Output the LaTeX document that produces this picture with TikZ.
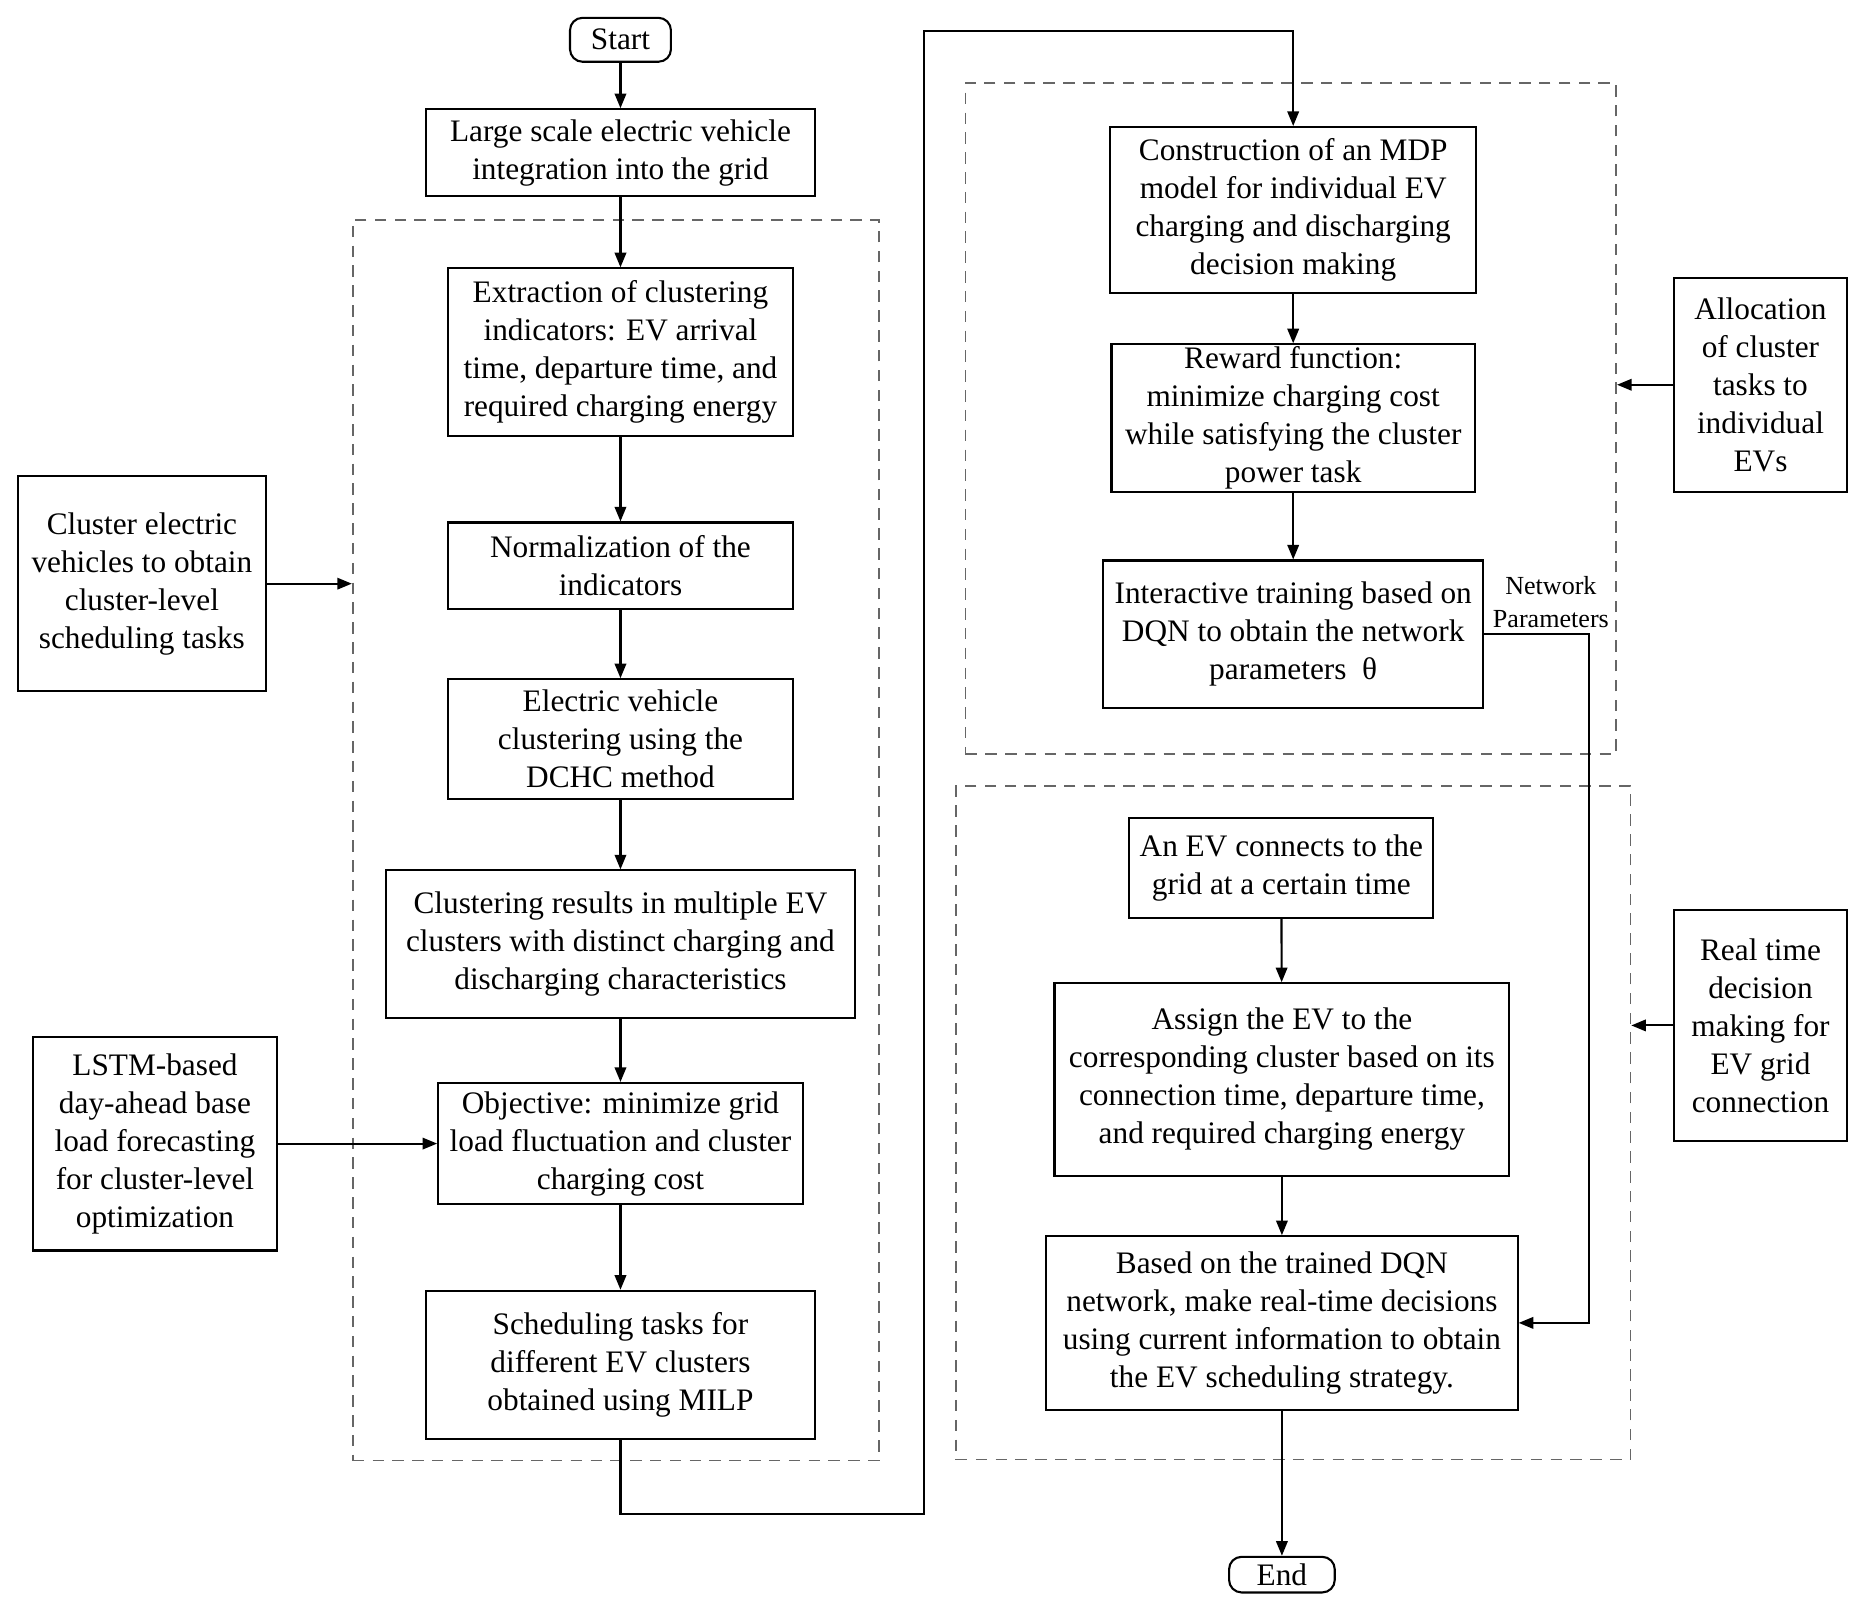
\documentclass[tikz,border=0pt]{standalone}
\usepackage{fontspec}
\setmainfont{Liberation Serif}
\usetikzlibrary{arrows.meta}
\tikzset{
  sz/.style 2 args={minimum width=#1*0.02cm, minimum height=#2*0.02cm},
  box/.style={draw, line width=1pt, align=center, inner sep=0pt, font=\fontsize{15}{18.2}\selectfont},
  term/.style={box, rounded corners=6pt},
  dbox/.style={draw=black!60, line width=0.8pt, dash pattern=on 5.5pt off 4pt, inner sep=0pt},
  arr/.style={line width=1pt, -{Triangle[length=7pt,width=5.5pt]}},
  ln/.style={line width=1pt},
  lbl/.style={font=\fontsize{12.5}{15.4}\selectfont, align=center, inner sep=0pt}
}
\begin{document}
\begin{tikzpicture}[x=0.02cm,y=-0.02cm]
\useasboundingbox (0,0) rectangle (1568,1356);
% dashed frames
\node[dbox, sz={443}{1045}] (dL) at (518.5,707.5) {};
\node[dbox, sz={548}{565}] (dRT) at (1087,352.5) {};
\node[dbox, sz={568}{567}] (dRB) at (1089,945.5) {};
% left column
\node[term, sz={85}{37}] (start) at (522.5,33.5) {Start};
\node[box, sz={327}{73}] (large) at (522.5,128.5) {Large scale electric vehicle\\integration into the grid};
\node[box, sz={291}{141}] (ext) at (522.5,296.5) {Extraction of clustering\\indicators: EV arrival\\time, departure time, and\\required charging energy};
\node[box, sz={291}{73}] (norm) at (522.5,476.5) {Normalization of the\\indicators};
\node[box, sz={291}{101}] (evc) at (522.5,622.5) {Electric vehicle\\clustering using the\\DCHC method};
\node[box, sz={395}{124}] (cres) at (522.5,795) {Clustering results in multiple EV\\clusters with distinct charging and\\discharging characteristics};
\node[box, sz={307}{102}] (obj) at (522.5,963) {Objective: minimize grid\\load fluctuation and cluster\\charging cost};
\node[box, sz={327}{125}] (sched) at (522.5,1149.5) {Scheduling tasks for\\different EV clusters\\obtained using MILP};
\node[box, sz={209}{181}] (clus) at (119.5,491.5) {Cluster electric\\vehicles to obtain\\cluster-level\\scheduling tasks};
\node[box, sz={205}{180}] (lstm) at (130.5,963) {LSTM-based\\day-ahead base\\load forecasting\\for cluster-level\\optimization};
% right column
\node[box, sz={308}{140}] (mdp) at (1089,177) {Construction of an MDP\\model for individual EV\\charging and discharging\\decision making};
\node[box, sz={306}{124}] (rew) at (1089,352) {Reward function:\\minimize charging cost\\while satisfying the cluster\\power task};
\node[box, sz={320}{124}] (inter) at (1089,534) {Interactive training based on\\DQN to obtain the network\\parameters\ \ θ};
\node[box, sz={145}{180}] (alloc) at (1482.5,324) {Allocation\\of cluster\\tasks to\\individual\\EVs};
\node[box, sz={256}{84}] (evcon) at (1079,731) {An EV connects to the\\grid at a certain time};
\node[box, sz={383}{162}] (assign) at (1079.5,909) {Assign the EV to the\\corresponding cluster based on its\\connection time, departure time,\\and required charging energy};
\node[box, sz={397}{146}] (based) at (1079.5,1114) {Based on the trained DQN\\network, make real-time decisions\\using current information to obtain\\the EV scheduling strategy.};
\node[term, sz={89}{30}] (end) at (1079.5,1326) {End};
\node[box, sz={145}{195}] (real) at (1482.5,863.5) {Real time\\decision\\making for\\EV grid\\connection};
\node[lbl] (np) at (1306,507) {Network\\Parameters};
% connectors
\draw[arr] (start) -- (large);
\draw[arr] (large) -- (ext);
\draw[arr] (ext) -- (norm);
\draw[arr] (norm) -- (evc);
\draw[arr] (evc) -- (cres);
\draw[arr] (cres) -- (obj);
\draw[arr] (obj) -- (sched);
\draw[arr] (sched.south) -- ++(0,62) -| (778,26) -| (mdp.north);
\draw[arr] (mdp) -- (rew);
\draw[arr] (rew) -- (inter);
\draw[arr] (clus.east) -- (clus.east -| dL.west);
\draw[arr] (lstm.east) -- (obj.west);
\draw[arr] (alloc.west) -- (alloc.west -| dRT.east);
\draw[arr] (real.west) -- (real.west -| dRB.east);
\draw[arr] (inter.east) -- ++(88,0) |- (based.east);
\draw[arr] (evcon) -- (assign);
\draw[arr] (assign) -- (based);
\draw[arr] (based) -- (end);
\end{tikzpicture}
\end{document}
